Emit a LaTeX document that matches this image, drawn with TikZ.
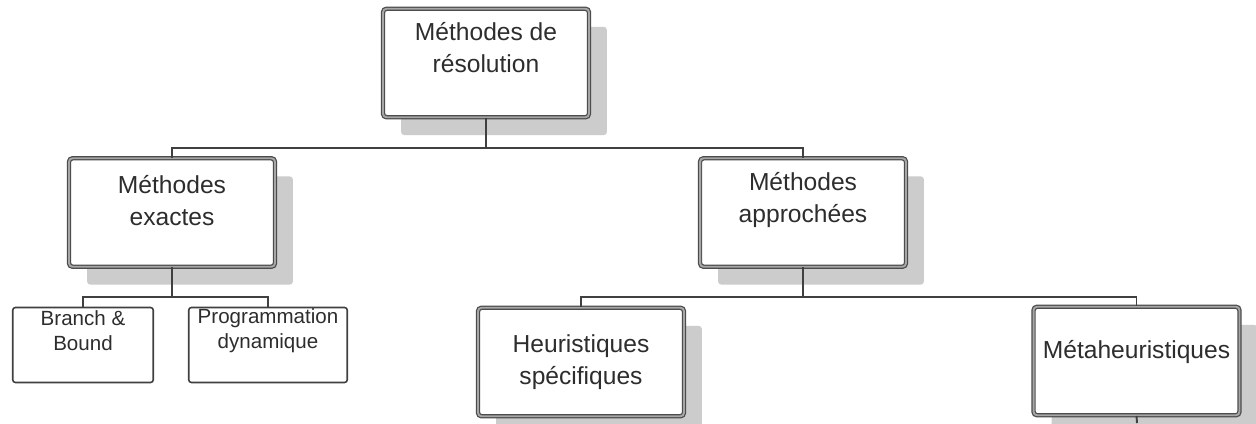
\documentclass[tikz,border=0pt]{standalone}
\usepackage{fontspec}
\setmainfont{Liberation Sans}
\usetikzlibrary{positioning, shadows, calc}
\definecolor{linegray}{RGB}{64,64,64}
\definecolor{textgray}{RGB}{45,45,45}

\begin{document}
\begin{tikzpicture}[x=0.02cm,y=-0.02cm,
    bigbox/.style={draw=black!70,double=black!35,line width=0.7pt,double distance=1.1pt,rounded corners=2pt,fill=white,
        minimum width=4.12cm,minimum height=2.17cm,inner sep=0pt,
        drop shadow={shadow xshift=0.36cm,shadow yshift=-0.36cm,fill=gray!40,opacity=1}},
    smallbox/.style={draw=linegray,line width=0.9pt,rounded corners=1.5pt,fill=white,minimum height=1.5cm,inner sep=0pt},
    bigtext/.style={align=center,text=textgray,font=\fontsize{14}{18.2}\selectfont,inner sep=0pt},
    smalltext/.style={align=center,text=textgray,font=\fontsize{11.7}{14.2}\selectfont,inner sep=0pt},
    link/.style={draw=linegray,line width=1.1pt}]
    \path[use as bounding box,fill=white] (0,0) rectangle (1256,423);
    % Boxes
    \node[bigbox] (res) at (486,63) {};
    \node[bigbox] (exa) at (172,212.5) {};
    \node[bigbox] (app) at (803,212.5) {};
    \node[bigbox] (heu) at (581,362) {};
    \node[bigbox] (meta) at (1136.5,361) {};
    \node[smallbox,minimum width=2.81cm] (bb) at (83,345) {};
    \node[smallbox,minimum width=3.17cm] (pd) at (268,345) {};
    % Texts
    \node[bigtext] (res-t) at ([yshift=0.31cm]res.center) {Méthodes de\\résolution};
    \node[bigtext] (exa-t) at ([yshift=0.24cm]exa.center) {Méthodes\\exactes};
    \node[bigtext] (app-t) at ([yshift=0.26cm]app.center) {Méthodes\\approchées};
    \node[bigtext] (heu-t) at (heu.center) {Heuristiques\\spécifiques};
    \node[bigtext] (meta-t) at ([yshift=0.18cm]meta.center) {Métaheuristiques};
    \node[smalltext] (bb-t) at ([yshift=0.29cm]bb.center) {Branch \&\\Bound};
    \node[smalltext] (pd-t) at ([yshift=0.28cm]pd.center) {Programmation\\dynamique};
    % Tree links
    \coordinate (bar1) at (486,148);
    \coordinate (bar2) at (172,297);
    \coordinate (bar3) at (803,297);
    \coordinate (meta-end) at (1137,423);
    \draw[link] (res.south) -- (bar1);
    \draw[link] (exa.north) |- (bar1) -| (app.north);
    \draw[link] (exa.south) -- (bar2);
    \draw[link] (bb.north) |- (bar2) -| (pd.north);
    \draw[link] (app.south) -- (bar3);
    \draw[link] (heu.north) |- (bar3) -| (meta.north);
    \draw[link] (meta.south) -- (meta-end);
\end{tikzpicture}
\end{document}
